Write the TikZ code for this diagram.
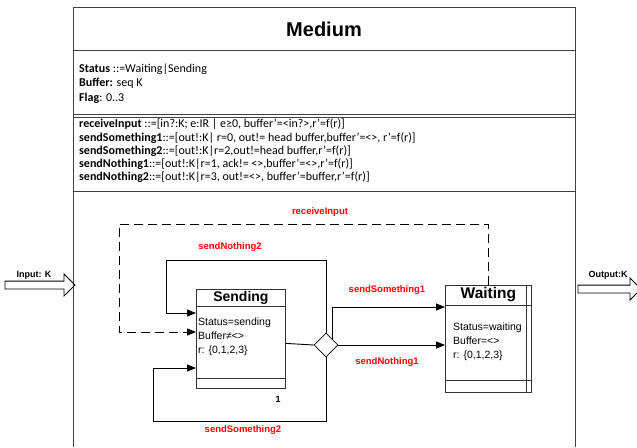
\documentclass[tikz,border=0pt]{standalone}
\usepackage{fontspec}
\setmainfont{Liberation Sans}
\newfontfamily\carlito{Carlito}
\usetikzlibrary{arrows.meta,shapes.geometric,shapes.arrows,calc,positioning}

\begin{document}
\begin{tikzpicture}[x=1pt,y=-1pt,
    frame/.style={draw=black!75,line width=0.9pt},
    conn/.style={line width=0.9pt,-{Triangle[length=9pt,width=7pt]}},
    trans/.style={text=red,font=\bfseries\fontsize{9.5}{11}\selectfont,inner sep=0pt},
    statebox/.style={draw=black!80,line width=0.8pt,fill=white,inner sep=0pt},
    statetitle/.style={font=\bfseries\fontsize{14}{16}\selectfont,inner sep=0pt},
    statetext/.style={font=\fontsize{10.5}{14}\selectfont,align=left,inner sep=0pt,anchor=north west},
    spec/.style={font=\carlito\fontsize{12}{14.5}\selectfont,align=left,inner sep=0pt,anchor=north west},
    port/.style={single arrow,draw,line width=0.8pt,inner sep=3.5pt,single arrow head extend=7pt,minimum height=70pt}]
\useasboundingbox (0,0) rectangle (637,447);

% the Medium class frame
\draw[frame] (73,447) -- (73,7) -- (575,7) -- (575,447);
\draw[frame] (73,50) -- (575,50);
\draw[frame] (73,114.5) -- (575,114.5);
\draw[frame] (73,117) -- (575,117);
\draw[frame] (73,191) -- (575,191);
\node[font=\bfseries\fontsize{20}{24}\selectfont] (medium) at (324,29) {Medium};
\node[spec] (attrs) at (79,63.5) {\textbf{Status} ::=Waiting|Sending\\ \textbf{Buffer:} seq K\\ \textbf{Flag}: 0..3};
\node[spec,font=\carlito\fontsize{12}{13.2}\selectfont] (ops) at (79,119) {\textbf{receiveInput} ::=[in?:K; e:IR | e≥0, buffer’=<in?>,r’=f(r)]\\
    \textbf{sendSomething1}::=[out!:K| r=0, out!= head buffer,buffer’=<>, r’=f(r)]\\
    \textbf{sendSomething2}::=[out!:K|r=2,out!=head buffer,r’=f(r)]\\
    \textbf{sendNothing1}::=[out!:K|r=1, ack!= <>,buffer’=<>,r’=f(r)]\\
    \textbf{sendNothing2}::=[out!:K|r=3, out!=<>, buffer’=buffer,r’=f(r)]};

% ports
\node[port] (input) at (38,285) {};
\node[port,minimum height=63pt] (output) at (607.5,289) {};
\node[font=\bfseries\fontsize{9}{10}\selectfont] (inputLbl) at (34,275) {Input: K};
\node[font=\bfseries\fontsize{9}{10}\selectfont] (outputLbl) at (608,275) {Output:K};

% states
\node[statebox,minimum width=89pt,minimum height=99pt,anchor=north west] (sending) at (196,289) {};
\node[statetitle] (sendingTitle) at ($(sending.north)+(0,8.5)$) {Sending};
\draw[statebox] ($(sending.north west)+(0,17)$) -- ($(sending.north east)+(0,17)$);
\draw[statebox] ($(sending.south west)+(0,-10)$) -- ($(sending.south east)+(0,-10)$);
\node[statetext] (sendingText) at ($(sending.north west)+(2,29)$) {Status=sending\\Buffer≠<>\\r: \{0,1,2,3\}};

\node[statebox,minimum width=86pt,minimum height=107pt,anchor=north west] (waiting) at (445,285) {};
\node[statetitle,font=\bfseries\fontsize{15.5}{17}\selectfont] (waitingTitle) at ($(waiting.north)+(0,10)$) {Waiting};
\draw[statebox] ($(waiting.north west)+(0,20)$) -- ($(waiting.north east)+(0,20)$);
\draw[statebox] ($(waiting.south west)+(0,-12)$) -- ($(waiting.south east)+(0,-12)$);
\draw[statebox] ($(waiting.north east)+(-5,0)$) -- ($(waiting.south east)+(-5,0)$);
\node[statetext] (waitingText) at ($(waiting.north west)+(8,38)$) {Status=waiting\\Buffer=<>\\r: \{0,1,2,3\}};

\node[diamond,draw,line width=0.8pt,fill=white,minimum width=24pt,minimum height=24pt,inner sep=0pt] (choice) at (326,345) {};

% transitions
\draw[line width=0.9pt] ($(sending.east)+(0,4.5)$) -- (choice.west);
\draw[conn] ($(choice.north)!0.5!(choice.east)$) |- ($(waiting.north west)+(0,22)$);
\draw[conn] (choice.east) -- (choice.east -| waiting.west);
\draw[conn] (choice.north) |- (166,260) |- ($(sending.north west)+(0,24)$);
\draw[conn] (choice.south) |- (153,421) |- ($(sending.north west)+(0,79)$);
\draw[conn,dash pattern=on 9pt off 5pt] (waiting.north) |- (119,224) |- ($(sending.north west)+(0,43)$);

\node[trans] (lblReceive) at (320,212) {receiveInput};
\node[trans] (lblNothing2) at (230,247) {sendNothing2};
\node[trans] (lblSomething1) at (387,290) {sendSomething1};
\node[trans] (lblNothing1) at (387,362) {sendNothing1};
\node[trans] (lblSomething2) at (243,430) {sendSomething2};
\node[font=\bfseries\fontsize{9}{10}\selectfont] (mult) at (278,399) {1};
\end{tikzpicture}
\end{document}
